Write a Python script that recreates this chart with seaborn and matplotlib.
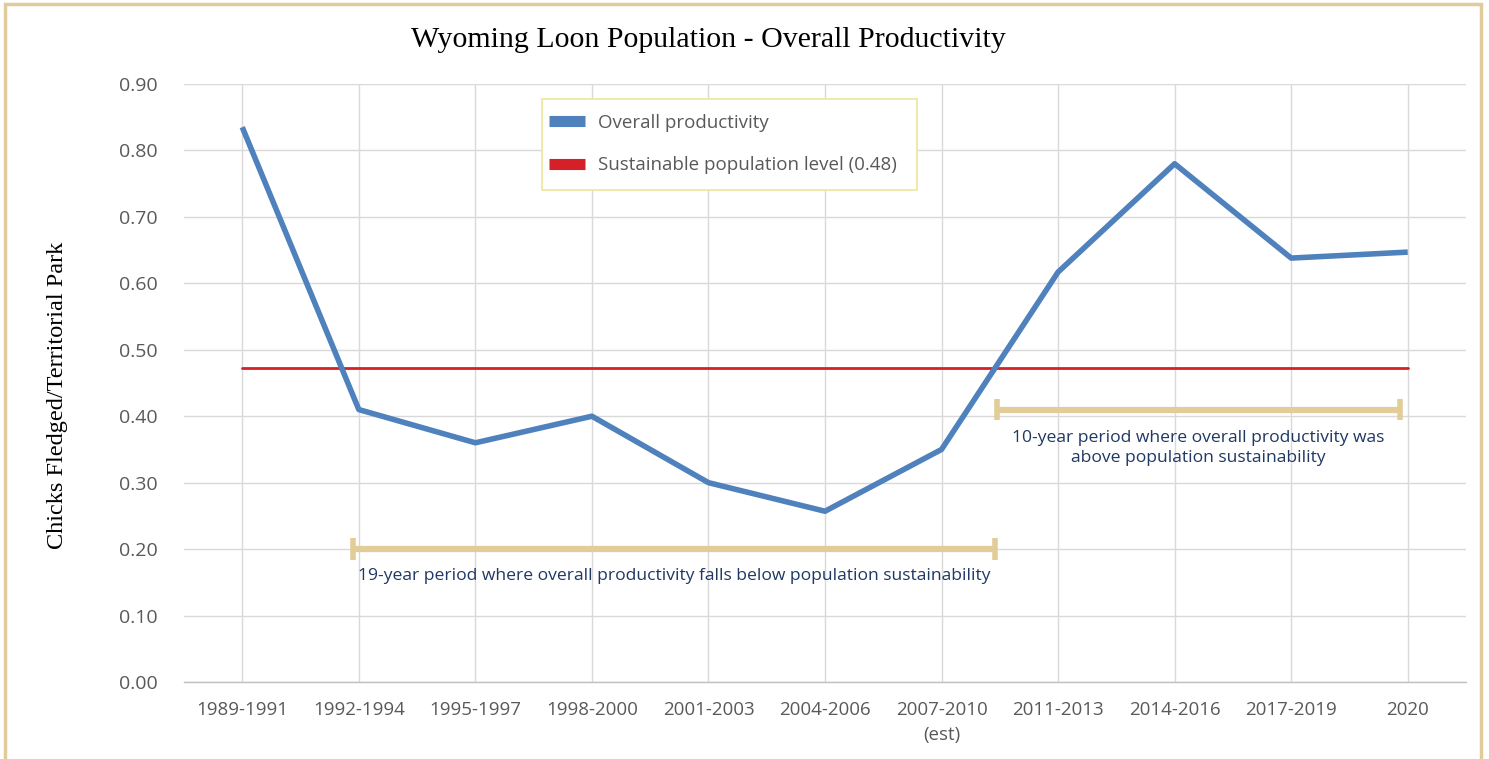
import numpy as np
import pandas as pd
import matplotlib
matplotlib.use("Agg")
import matplotlib.pyplot as plt
from matplotlib.lines import Line2D
from matplotlib.patches import Rectangle
import seaborn as sns

categories = ["1989-1991", "1992-1994", "1995-1997", "1998-2000", "2001-2003",
              "2004-2006", "2007-2010\n(est)", "2011-2013", "2014-2016", "2017-2019", "2020"]
productivity = [0.835, 0.41, 0.36, 0.40, 0.30, 0.257, 0.35, 0.617, 0.78, 0.638, 0.647]
sustainable_level = 0.472
yticks = [0.0, 0.1, 0.2, 0.3, 0.4, 0.5, 0.6, 0.7, 0.8, 0.9]
below_span = (0.95, 6.46, 0.20)
above_span = (6.48, 9.93, 0.41)
below_text = "19-year period where overall productivity falls below population sustainability"
above_text = "10-year period where overall productivity was\nabove population sustainability"

sns.set_style("white")
plt.rcParams['font.family'] = ['Open Sans', 'DejaVu Sans']

fig = plt.figure(figsize=(14.89, 7.59), dpi=100)
ax = fig.add_axes([184/1489, 1-682/759, (1466-184)/1489, (682-84)/759])

df = pd.DataFrame({"x": np.arange(len(categories)), "y": productivity})
gray_grid = "#d9d9d9"
ax.set_axisbelow(True)
ax.yaxis.grid(True, color=gray_grid, lw=1)
ax.xaxis.grid(True, color=gray_grid, lw=1)

# sustainable line
ax.plot([0, len(categories)-1], [sustainable_level]*2, color="#d42027", lw=2, zorder=3)
sns.lineplot(data=df, x="x", y="y", ax=ax, color="#4f81bd", lw=4, zorder=4,
             solid_capstyle="butt")

bracket_c = "#e2cd98"
for (x0, x1, yy) in [below_span, above_span]:
    ax.plot([x0, x1], [yy, yy], color=bracket_c, lw=4.5, zorder=5, solid_capstyle="butt")
    for xx in (x0, x1):
        ax.plot([xx, xx], [yy-0.016, yy+0.016], color=bracket_c, lw=4, zorder=5,
                solid_capstyle="butt")

ax.text((below_span[0]+below_span[1])/2, 0.159, below_text, ha="center", va="center",
        color="#1f3864", fontsize=12.6, fontfamily=["Open Sans", "DejaVu Sans"], zorder=6)
ax.text((above_span[0]+above_span[1])/2, 0.352, above_text, ha="center", va="center",
        color="#1f3864", fontsize=12.6, fontfamily=["Open Sans", "DejaVu Sans"],
        linespacing=1.38, zorder=6)

ax.set_xlim(-0.5, len(categories)-0.5)
ax.set_ylim(0, 0.9)
ax.set_yticks(yticks)
ax.set_yticklabels([f"{v:.2f}" for v in yticks])
ax.set_xticks(np.arange(len(categories)))
ax.set_xticklabels(categories, linespacing=1.5)
ax.tick_params(axis="y", length=0, pad=19, labelsize=14, labelcolor="#595959")
ax.tick_params(axis="x", length=0, pad=14, labelsize=13.5, labelcolor="#595959")
for s in ["left", "right", "top"]:
    ax.spines[s].set_visible(False)
ax.spines["bottom"].set_color("#bfbfbf")
ax.spines["bottom"].set_linewidth(1)
ax.set_xlabel("")
ax.set_ylabel("Chicks Fledged/Territorial Park", fontsize=17.5,
              fontfamily=["Liberation Serif", "DejaVu Serif"], color="black")
ax.yaxis.set_label_coords(-116/1282, 0.48)

fig.text(708/1489, 1-40/759, "Wyoming Loon Population - Overall Productivity",
         ha="center", va="center", fontsize=21.5,
         fontfamily=["Liberation Serif", "DejaVu Serif"], color="black")

# legend frame
ax.add_patch(Rectangle(((542-184)/1282, 1-(190-84)/598), 375/1282, 91/598,
                       transform=ax.transAxes, facecolor="white", edgecolor="#ede59a",
                       lw=1.2, zorder=7, clip_on=False))
handles = [Line2D([0], [0], color="#4f81bd", lw=8, solid_capstyle="butt"),
           Line2D([0], [0], color="#d42027", lw=8, solid_capstyle="butt")]
leg = ax.legend(handles, ["Overall productivity", "Sustainable population level (0.48)"],
                loc="center left", bbox_to_anchor=((549-184)/1282, 1-(144-84)/598),
                frameon=False, fontsize=13.5, labelcolor="#595959",
                handlelength=1.9, handletextpad=0.7, labelspacing=1.3,
                borderpad=0, borderaxespad=0)
leg.set_zorder(8)

fig.patches.append(Rectangle((5/1489, -0.01), (1481-5)/1489, 1-4/759+0.01,
                             transform=fig.transFigure, fill=False,
                             edgecolor="#e0cc9a", lw=2.5, zorder=10))

fig.savefig("out.png", dpi=100)
